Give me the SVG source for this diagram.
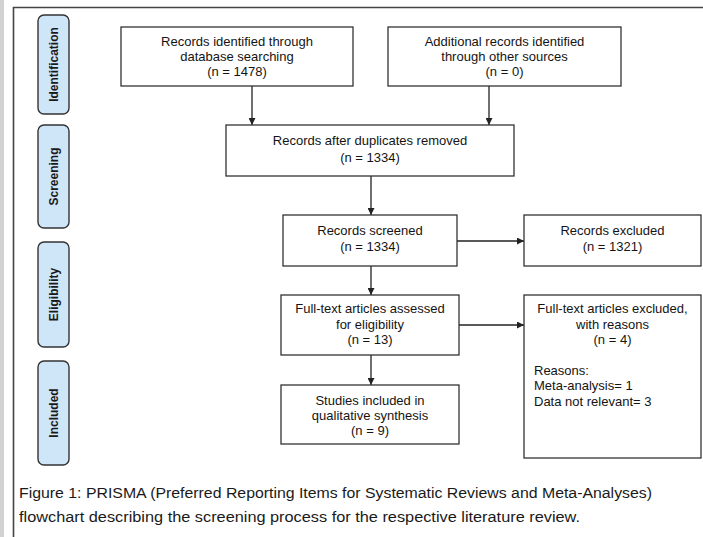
<svg xmlns="http://www.w3.org/2000/svg" width="703" height="537" viewBox="0 0 703 537">
<defs>
<style>
.box{fill:#fff;stroke:#333;stroke-width:1.3}
.side{fill:#cfe5f8;stroke:#333;stroke-width:1.4}
.t{font-family:"Liberation Sans",Arial,sans-serif;font-size:13px;fill:#141414;text-anchor:middle}
.tl{font-family:"Liberation Sans",Arial,sans-serif;font-size:13px;fill:#141414}
.s{font-family:"Liberation Sans",Arial,sans-serif;font-size:12px;font-weight:bold;fill:#1a1a1a;text-anchor:middle}
.cap{font-family:"Liberation Sans",Arial,sans-serif;font-size:15.5px;fill:#1a1a1a}
.c{stroke:#222;stroke-width:1.3;fill:none}
</style>
<marker id="ah" viewBox="0 0 10 10" refX="10" refY="5" markerWidth="7" markerHeight="7" markerUnits="userSpaceOnUse" orient="auto">
<path d="M0,0 L10,5 L0,10 Z" fill="#222"/>
</marker>
</defs>
<rect width="703" height="537" fill="#fff"/>
<rect x="0" y="0" width="4" height="537" fill="#d2d2d2"/>
<path d="M13.5,537 V7.5 H703" fill="none" stroke="#444" stroke-width="1.6"/>

<g id="side-identification"><rect class="side" x="38" y="15" width="31" height="99" rx="6"/><text class="s" transform="translate(57.5,64.5) rotate(-90)">Identification</text></g>
<g id="side-screening"><rect class="side" x="38" y="125" width="31" height="103" rx="6"/><text class="s" transform="translate(57.5,176.5) rotate(-90)">Screening</text></g>
<g id="side-eligibility"><rect class="side" x="38" y="242" width="31" height="105" rx="6"/><text class="s" transform="translate(57.5,294.5) rotate(-90)">Eligibility</text></g>
<g id="side-included"><rect class="side" x="38" y="361" width="31" height="104" rx="6"/><text class="s" transform="translate(57.5,413) rotate(-90)">Included</text></g>

<g id="connectors">
<line class="c" x1="252" y1="86" x2="252" y2="125" marker-end="url(#ah)"/>
<line class="c" x1="489" y1="86" x2="489" y2="125" marker-end="url(#ah)"/>
<line class="c" x1="371" y1="176" x2="371" y2="215" marker-end="url(#ah)"/>
<line class="c" x1="457" y1="241" x2="524" y2="241" marker-end="url(#ah)"/>
<line class="c" x1="371" y1="266" x2="371" y2="295" marker-end="url(#ah)"/>
<line class="c" x1="459" y1="325" x2="524" y2="325" marker-end="url(#ah)"/>
<line class="c" x1="371" y1="355" x2="371" y2="385" marker-end="url(#ah)"/>
</g>

<g id="n-db">
<rect class="box" x="121" y="27" width="232" height="59"/>
<text class="t" x="237" y="46">Records identified through</text>
<text class="t" x="237" y="61">database searching</text>
<text class="t" x="237" y="76">(n = 1478)</text>
</g>
<g id="n-other">
<rect class="box" x="388" y="27" width="233" height="59"/>
<text class="t" x="504.5" y="46">Additional records identified</text>
<text class="t" x="504.5" y="61">through other sources</text>
<text class="t" x="504.5" y="76">(n = 0)</text>
</g>
<g id="n-dup">
<rect class="box" x="226" y="125" width="288" height="51"/>
<text class="t" x="370" y="145">Records after duplicates removed</text>
<text class="t" x="370" y="162">(n = 1334)</text>
</g>
<g id="n-screened">
<rect class="box" x="283" y="215" width="174" height="51"/>
<text class="t" x="370" y="235">Records screened</text>
<text class="t" x="370" y="251">(n = 1334)</text>
</g>
<g id="n-excluded">
<rect class="box" x="524" y="215" width="177" height="51"/>
<text class="t" x="612.5" y="235">Records excluded</text>
<text class="t" x="612.5" y="251">(n = 1321)</text>
</g>
<g id="n-fulltext">
<rect class="box" x="281" y="295" width="178" height="60"/>
<text class="t" x="370" y="313">Full-text articles assessed</text>
<text class="t" x="370" y="329">for eligibility</text>
<text class="t" x="370" y="344">(n = 13)</text>
</g>
<g id="n-ftexcluded">
<rect class="box" x="524" y="295" width="177" height="163"/>
<text class="t" x="612.5" y="313">Full-text articles excluded,</text>
<text class="t" x="612.5" y="329">with reasons</text>
<text class="t" x="612.5" y="344">(n = 4)</text>
<text class="tl" x="534" y="375">Reasons:</text>
<text class="tl" x="534" y="390">Meta-analysis= 1</text>
<text class="tl" x="534" y="406">Data not relevant= 3</text>
</g>
<g id="n-included">
<rect class="box" x="281" y="385" width="178" height="59"/>
<text class="t" x="370" y="405">Studies included in</text>
<text class="t" x="370" y="420">qualitative synthesis</text>
<text class="t" x="370" y="435">(n = 9)</text>
</g>

<text class="cap" x="19" y="498" textLength="633" lengthAdjust="spacingAndGlyphs">Figure 1: PRISMA (Preferred  Reporting Items for Systematic Reviews and Meta-Analyses)</text>
<text class="cap" x="19" y="522" textLength="561" lengthAdjust="spacingAndGlyphs">flowchart describing the screening process for the respective literature review.</text>
</svg>
